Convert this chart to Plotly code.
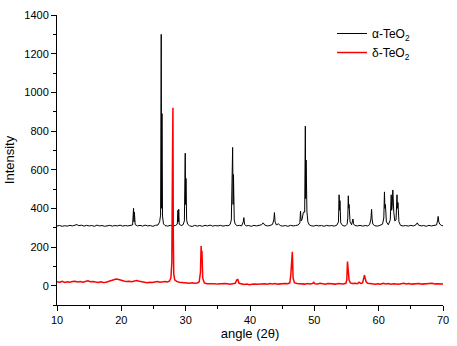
import plotly.graph_objects as go

# alpha-TeO2 (black)
alpha_angle = [10.0,10.4,10.8,11.2,11.6,12.0,12.4,12.8,13.1,13.4,13.8,14.2,14.6,15.0,15.4,15.8,16.2,16.6,17.0,17.4,17.8,18.2,18.6,19.0,19.4,19.8,20.2,20.6,21.0,21.4,
               21.75,21.9,21.97,22.03,22.15,22.5,22.9,23.3,23.7,24.1,24.5,24.9,25.3,25.7,25.95,26.1,26.2,26.26,26.32,26.4,26.55,26.8,27.2,27.6,28.0,28.4,
               28.7,28.8,28.86,28.92,29.0,29.3,29.6,29.8,29.93,29.99,30.05,30.15,30.3,30.6,31.0,31.4,31.8,32.2,32.6,33.0,33.4,33.8,34.2,34.6,35.0,35.4,35.8,36.2,36.6,
               36.9,37.1,37.3,37.37,37.43,37.55,37.7,38.0,38.4,38.7,38.95,39.05,39.15,39.4,39.8,40.2,40.6,41.0,41.4,41.8,42.05,42.3,42.7,43.1,43.5,43.7,43.8,43.9,44.1,
               44.4,44.7,45.1,45.5,45.9,46.3,46.7,47.1,47.5,47.75,47.85,47.95,48.1,48.3,48.5,48.6,48.66,48.72,48.85,49.0,49.2,49.5,49.9,50.3,50.7,51.1,51.5,51.9,52.3,
               52.7,53.1,53.5,53.75,53.85,53.92,53.98,54.1,54.4,54.8,55.1,55.2,55.28,55.34,55.4,55.55,55.8,56.0,56.1,56.3,56.7,57.1,57.5,57.9,58.3,58.6,58.8,58.9,58.98,
               59.1,59.4,59.8,60.2,60.6,60.8,60.9,60.97,61.05,61.2,61.5,61.8,61.95,62.02,62.1,62.2,62.28,62.35,62.5,62.7,62.85,62.92,63.0,63.15,63.4,63.8,64.2,64.6,65.0,
               65.4,65.8,66.0,66.2,66.6,67.0,67.4,67.8,68.2,68.6,69.0,69.15,69.25,69.35,69.5,69.8,70.0]
alpha_int = [309,311,307,310,308,312,309,311,316,310,313,308,312,309,311,307,313,309,311,307,310,312,308,311,309,313,308,311,309,312,
             314,400,330,380,316,309,312,308,313,309,311,307,312,314,330,365,1300,400,890,360,320,311,308,312,309,311,
             318,390,330,395,318,311,315,335,685,420,555,340,318,310,306,312,308,311,307,312,309,313,308,311,309,312,308,311,310,
             316,340,715,420,575,340,318,310,312,309,330,352,318,309,311,307,312,309,311,315,325,313,309,311,317,340,378,330,314,
             320,311,308,311,307,312,309,311,314,325,385,335,345,380,380,825,450,650,380,330,315,310,308,312,309,311,307,312,309,
             311,308,313,330,470,390,440,325,311,308,318,350,465,400,420,330,315,345,320,311,309,312,308,311,309,316,345,395,345,
             318,310,308,312,318,350,485,400,420,330,315,340,470,390,410,495,420,380,335,340,470,400,430,330,312,309,311,308,312,
             309,315,325,313,309,311,307,312,309,311,314,335,358,330,318,311,310]

# delta-TeO2 (red)
delta_angle = [10.0,10.4,10.8,11.2,11.6,12.0,12.4,12.8,13.2,13.6,14.0,14.4,14.8,15.2,15.6,16.0,16.4,16.8,17.2,17.6,18.0,18.4,18.8,19.2,19.6,20.0,20.4,20.8,
               21.2,21.6,22.0,22.4,22.8,23.2,23.6,24.0,24.4,24.8,25.2,25.6,26.0,26.4,26.8,27.2,27.5,27.7,27.85,27.95,28.02,28.08,28.15,28.3,28.6,29.0,29.4,
               29.8,30.2,30.6,31.0,31.4,31.8,32.1,32.3,32.4,32.47,32.53,32.65,32.9,33.3,33.7,34.1,34.5,34.9,35.3,35.7,36.1,36.5,36.9,37.3,37.7,37.95,38.1,38.3,
               38.7,39.1,39.5,39.9,40.3,40.7,41.1,41.5,41.9,42.3,42.7,43.1,43.5,43.9,44.3,44.7,45.1,45.5,45.9,46.2,46.35,46.45,46.52,46.58,46.7,46.9,47.3,47.7,
               48.1,48.5,48.9,49.3,49.7,49.9,50.1,50.5,50.9,51.3,51.7,52.1,52.5,52.9,53.3,53.7,54.1,54.5,54.9,55.05,55.15,55.25,55.4,55.6,55.9,56.3,56.7,56.95,
               57.2,57.5,57.7,57.8,57.9,58.05,58.3,58.7,59.1,59.5,59.9,60.3,60.7,61.1,61.5,61.9,62.3,62.7,63.1,63.5,63.9,64.3,64.7,65.1,65.5,65.9,66.3,66.7,
               67.1,67.5,67.9,68.3,68.7,69.1,69.5,70.0]
delta_int = [20,18,22,17,20,18,21,23,19,21,18,22,25,20,22,19,17,20,16,18,22,24,27,34,32,26,24,21,
             23,20,24,26,23,20,17,15,18,16,19,21,18,20,22,19,24,40,120,640,920,250,60,30,22,18,16,
             14,15,13,15,12,14,20,70,205,120,180,40,14,10,11,9,10,8,10,9,11,10,8,10,12,30,32,12,
             8,6,8,5,7,9,7,9,8,10,8,11,9,11,8,10,9,11,10,15,60,140,120,175,40,15,11,9,
             10,8,11,9,11,17,10,9,12,10,8,11,9,10,8,11,10,9,12,30,125,70,30,14,11,12,10,18,
             12,14,35,55,38,20,12,10,11,7,10,8,12,9,11,8,10,9,7,10,12,9,11,8,10,9,11,8,
             10,9,11,12,9,10,8,9]

x_ticks = [10, 20, 30, 40, 50, 60, 70]
y_ticks = [0, 200, 400, 600, 800, 1000, 1200, 1400]

fig = go.Figure()
fig.add_trace(go.Scatter(x=alpha_angle, y=alpha_int, mode="lines", name="α-TeO<sub>2</sub>",
                         line=dict(color="black", width=1)))
fig.add_trace(go.Scatter(x=delta_angle, y=delta_int, mode="lines", name="δ-TeO<sub>2</sub>",
                         line=dict(color="#ff0000", width=1.5)))

axis_font = dict(family="Liberation Sans, Arial, sans-serif", size=11, color="black")
fig.update_layout(
    width=457, height=346,
    margin=dict(l=57, r=14, t=15, b=41, autoexpand=False),
    paper_bgcolor="white", plot_bgcolor="white",
    font=dict(family="Liberation Sans, Arial, sans-serif", color="black"),
    showlegend=True,
    legend=dict(x=(332 - 57) / 386, y=(305 - 19) / 290, xanchor="left", yanchor="top",
                font=dict(size=12, color="black"), bgcolor="rgba(0,0,0,0)", tracegroupgap=0),
    xaxis=dict(range=[10, 70], tickvals=x_ticks, showline=True, linecolor="black", linewidth=1,
               ticks="outside", ticklen=5, tickcolor="black", showgrid=False, zeroline=False,
               minor=dict(dtick=5, tick0=10, ticks="outside", ticklen=3, tickcolor="black"),
               tickfont=axis_font,
               title=dict(text="angle (2θ)", font=dict(size=13), standoff=2)),
    yaxis=dict(range=[-100, 1400], tickvals=y_ticks, showline=True, linecolor="black", linewidth=1,
               ticks="outside", ticklen=5, tickcolor="black", showgrid=False, zeroline=False,
               minor=dict(dtick=100, tick0=0, ticks="outside", ticklen=3, tickcolor="black"),
               tickfont=axis_font,
               title=dict(text="Intensity", font=dict(size=13), standoff=6)),
)
fig.write_html("out.html")
